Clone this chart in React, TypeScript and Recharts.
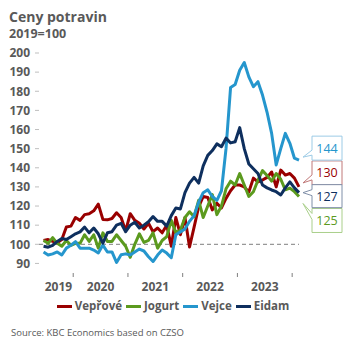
import React from 'react';
import { LineChart, Line, XAxis, YAxis, ReferenceLine } from 'recharts';

// months counted from Jan 2019 (0); first point is Jun 2019
const FIRST_MONTH = 5;
const YEARS = ['2019', '2020', '2021', '2022', '2023'];
const YEAR_BOUNDS = [11.5, 23.5, 35.5, 47.5, 59.5];
const YEAR_LABEL_POS = [8.25, 17.5, 29.5, 41.5, 53.5];
const Y_TICKS = [90, 100, 110, 120, 130, 140, 150, 160, 170, 180, 190, 200];

const VEPROVE = [
  102, 102.5, 101.5, 100.8, 102.5, 109, 109.5, 114, 112.5, 115.5, 116, 117.5, 121, 113, 112.8,
  113.5, 116.5, 114, 107, 116, 112.5, 111, 108, 111, 106.6, 108.5, 106, 110, 99, 114, 105, 114,
  98.6, 109, 119.5, 125, 124.5, 118, 121.5, 119, 124, 128, 131, 131, 130, 127.3, 134.6, 132.6,
  133.6, 135, 137.8, 130, 138.8, 136.2, 137, 134.6, 130,
];
const JOGURT = [
  102, 100.5, 103.5, 100.5, 99, 102, 99.5, 100.5, 100.5, 105, 101.5, 105, 98, 106, 101.5, 101.5,
  105, 102, 99, 93.2, 100, 105.5, 101, 102, 106, 98, 102, 104, 112.5, 106, 107.5, 114, 117, 114.4,
  123, 114, 120, 126, 115.5, 120, 129, 133, 131, 137, 131, 125, 127.5, 133.5, 138.5, 136, 133, 137,
  134, 128.5, 129.4, 127.5, 125,
];
const VEJCE = [
  96, 94.4, 95, 96, 94.4, 98, 99.5, 101.4, 98, 98, 98, 97, 95.5, 99.6, 96, 96, 90.5, 94.5, 95, 94.4,
  96, 97.5, 96.5, 93.5, 91, 94.4, 97, 95.4, 93, 105, 106.5, 108, 112, 115, 122, 127, 128.5, 125,
  123, 128, 150, 182, 183.5, 191, 195, 187.5, 182.4, 185, 178, 169, 158, 141.5, 150, 158, 152.8,
  145, 144,
];
const EIDAM = [
  99, 98.5, 99.5, 101.5, 103, 102.5, 104, 105.5, 106.5, 109, 106, 108.5, 105.5, 100.6, 106, 106.6,
  110, 111, 106.6, 110, 111.5, 108.5, 110, 111.8, 114.5, 112, 112, 109.5, 115, 119, 118.5, 127, 132,
  135, 132, 141, 146.5, 149, 152.5, 151, 155.5, 153, 153.6, 161, 150, 142, 139.5, 137, 131, 129.5,
  128.4, 127.5, 125.8, 129.5, 132.6, 129.5, 127,
];

const FONT = "'Open Sans', 'Noto Sans', sans-serif";
const GREY = '#595959';

// callout offsets are relative to the last point of each line
const SERIES = [
  { key: 'veprove', name: 'Vepřové', values: VEPROVE, color: '#990000', border: '#C07878', boxDy: -26, h: 24, tipDy: -4, baseA: -12, baseB: -7 },
  { key: 'jogurt', name: 'Jogurt', values: JOGURT, color: '#5B9A1E', border: '#A9CF8A', boxDy: 12, h: 24, tipDy: 7, baseA: 17, baseB: 23 },
  { key: 'vejce', name: 'Vejce', values: VEJCE, color: '#2596CD', border: '#9CCBE6', boxDy: -24, h: 24, tipDy: -3, baseA: -10, baseB: -5 },
  { key: 'eidam', name: 'Eidam', values: EIDAM, color: '#0E2F5E', border: '#7F8FA8', boxDy: -8, h: 23, tipDy: 0, baseA: -3, baseB: 3 },
];

const data = VEPROVE.map((_, i) => {
  const row: Record<string, number> = { t: FIRST_MONTH + i };
  SERIES.forEach((s) => {
    row[s.key] = s.values[i];
  });
  return row;
});

function YearTick({ x, y, payload }: any) {
  const v = payload.value;
  if (YEAR_BOUNDS.includes(v)) {
    return <line x1={x} x2={x} y1={y} y2={y + 4} stroke="#7f7f7f" strokeWidth={1} />;
  }
  const li = YEAR_LABEL_POS.indexOf(v);
  return (
    <text x={x} y={y + 18} textAnchor="middle" fill={GREY} fontSize={12} fontWeight={700} fontFamily={FONT}>
      {YEARS[li]}
    </text>
  );
}

function Callout({ x, y, index, value, s }: any) {
  if (index !== s.values.length - 1) return null;
  const left = x + 13;
  const w = 30;
  const top = y + s.boxDy;
  const h = s.h;
  const path = `M${left},${top} H${left + w} V${top + h} H${left} V${y + s.baseB} L${x + 4},${y + s.tipDy} L${left},${y + s.baseA} Z`;
  return (
    <g>
      <path d={path} fill="#fff" stroke={s.border} strokeWidth={1} />
      <text x={left + w / 2} y={top + h / 2} textAnchor="middle" dominantBaseline="central" fill={s.color} fontSize={12.5} fontFamily={FONT}>
        {Math.round(value)}
      </text>
    </g>
  );
}

export default function App() {
  return (
    <div style={{ position: 'fixed', top: 0, left: 0, width: 350, height: 350, background: '#fff', fontFamily: FONT, color: GREY }}>
      <div style={{ position: 'absolute', left: 9, top: 8, fontSize: 14, lineHeight: '18px', fontWeight: 700 }}>Ceny potravin</div>
      <div style={{ position: 'absolute', left: 9, top: 26, fontSize: 12.5, lineHeight: '16px', fontWeight: 700 }}>2019=100</div>
      <LineChart width={350} height={350} data={data} margin={{ top: 53, right: 51, left: 0, bottom: 47 }}>
        <XAxis
          dataKey="t"
          type="number"
          domain={[4, 61]}
          ticks={[...YEAR_BOUNDS, ...YEAR_LABEL_POS]}
          interval={0}
          tick={<YearTick />}
          tickLine={false}
          axisLine={false}
          tickSize={0}
          tickMargin={0}
          height={30}
        />
        <YAxis
          type="number"
          domain={[85, 200]}
          ticks={Y_TICKS}
          interval={0}
          width={39}
          axisLine={false}
          tickSize={4}
          tickMargin={5}
          tickLine={{ stroke: '#bfbfbf' }}
          tick={{ fill: GREY, fontSize: 12, fontWeight: 700, fontFamily: FONT }}
        />
        <ReferenceLine y={100} stroke="#7f7f7f" strokeDasharray="4 3" strokeWidth={1} />
        {SERIES.map((s) => (
          <Line
            key={s.key}
            dataKey={s.key}
            name={s.name}
            type="linear"
            stroke={s.color}
            strokeWidth={3}
            dot={false}
            strokeLinejoin="round"
            isAnimationActive={false}
            label={(p: any) => <Callout {...p} s={s} />}
          />
        ))}
      </LineChart>
      <div style={{ position: 'absolute', left: 0, width: 350, top: 298, display: 'flex', justifyContent: 'center', fontSize: 11.5, lineHeight: '16px', fontWeight: 700 }}>
        {SERIES.map((s) => (
          <div key={s.key} style={{ display: 'flex', alignItems: 'center', marginRight: 4 }}>
            <span style={{ display: 'inline-block', width: 15, height: 3, background: s.color, marginRight: 3 }} />
            <span>{s.name}</span>
          </div>
        ))}
      </div>
      <div style={{ position: 'absolute', left: 11, top: 326, fontSize: 9.5, lineHeight: '13px' }}>
        Source: KBC Economics based on CZSO
      </div>
    </div>
  );
}
